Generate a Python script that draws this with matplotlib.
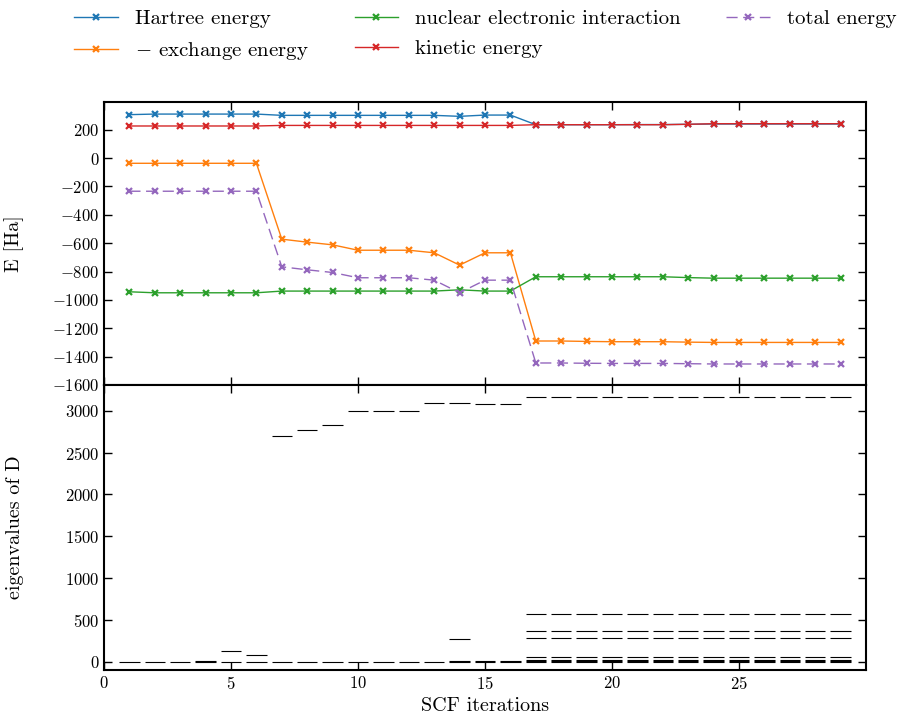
"""
SCF convergence: energy components and eigenvalues of D per iteration
"""

import matplotlib

matplotlib.use("Agg")
import matplotlib.pyplot as plt

plt.rcParams["font.family"] = ["cmr10", "DejaVu Serif"]
plt.rcParams["mathtext.fontset"] = "cm"
plt.rcParams["axes.formatter.use_mathtext"] = True
plt.rcParams["font.size"] = 12

# Iterations
iterations = list(range(1, 30))

# Energy components [Ha]
hartree = [306, 310, 310, 310, 310, 310, 301, 301, 301, 301, 301, 301, 301, 294, 303, 303,
           235, 235, 235, 235, 236, 236, 238, 240, 240, 240, 240, 240, 240]
exchange = [-37, -37, -37, -37, -37, -37, -572, -593, -612, -650, -650, -650, -668, -755, -668, -668,
            -1290, -1290, -1293, -1295, -1295, -1295, -1298, -1300, -1300, -1300, -1300, -1300, -1300]
nuclear = [-943, -950, -950, -950, -950, -950, -938, -938, -938, -938, -938, -938, -938, -929, -938, -938,
           -837, -837, -837, -837, -837, -837, -843, -847, -847, -847, -847, -847, -847]
kinetic = [226, 226, 226, 226, 226, 226, 230, 230, 230, 230, 230, 230, 230, 230, 230, 230,
           235, 235, 235, 235, 235, 235, 238, 242, 242, 242, 242, 242, 242]
total = [-234, -234, -234, -234, -234, -234, -767, -788, -807, -844, -844, -844, -861, -950, -861, -861,
         -1445, -1445, -1447, -1448, -1448, -1448, -1450, -1452, -1452, -1452, -1452, -1452, -1452]

# Eigenvalues of D for each iteration
eig_low = [[0], [0], [0], [0, 10], [0, 123], [0, 84], [0], [0], [0], [0], [0], [0], [0], [0, 5],
           [0, 5], [0, 10]] + [[0, 12, 25, 55]] * 13
eig_mid = [[], [], [], [], [], [], [], [], [], [], [], [], [], [271], [], []] + [[279, 371, 570]] * 13
eig_top = [[], [], [], [], [], [], [2695], [2775], [2835], [3002], [3002], [2995], [3094], [3094],
           [3086], [3086]] + [[3170]] * 13


def setup_axes(ax):
    ax.tick_params(direction="in", top=True, right=True, length=6, width=1)
    for s in ax.spines.values():
        s.set_linewidth(1.5)


fig = plt.figure(figsize=(8.98, 7.22), dpi=100)
ax1 = fig.add_axes([0.1158, 0.4668, 0.8486, 0.3919])
ax2 = fig.add_axes([0.1158, 0.072, 0.8486, 0.3948], sharex=ax1)

style = dict(marker="x", markersize=4, markeredgewidth=1.6, linewidth=1)
l1, = ax1.plot(iterations, hartree, color="C0", label="Hartree energy", **style)
l2, = ax1.plot(iterations, exchange, color="C1", label=r"$-$ exchange energy", **style)
l3, = ax1.plot(iterations, nuclear, color="C2", label="nuclear electronic interaction", **style)
l4, = ax1.plot(iterations, kinetic, color="C3", label="kinetic energy", **style)
l5, = ax1.plot(iterations, total, color="C4", linestyle=(0, (8, 4)), label="total energy", **style)

ax1.set_ylim(-1600, 395)
ax1.set_yticks(range(-1600, 201, 200))
ax1.set_ylabel("E [Ha]", fontsize=14.5)
ax1.yaxis.set_label_coords(-0.105, 0.5)
setup_axes(ax1)
ax1.tick_params(labelbottom=False)

# Eigenvalues drawn as short horizontal bars
for it, lo, mid, top in zip(iterations, eig_low, eig_mid, eig_top):
    ax2.hlines(lo + mid + top, it - 0.4, it + 0.4, colors="k", linewidth=0.8)

ax2.set_xlim(0, 30)
ax2.set_ylim(-100, 3310)
ax2.set_xticks(range(0, 26, 5))
ax2.set_yticks(range(0, 3001, 500))
ax2.set_xlabel("SCF iterations", fontsize=14.5)
ax2.set_ylabel("eigenvalues of D", fontsize=14.5)
ax2.yaxis.set_label_coords(-0.105, 0.5)
setup_axes(ax2)

fig.legend(handles=[l1, l2, l3, l4, l5], loc="upper left", bbox_to_anchor=(0.0735, 0.998),
           ncol=3, frameon=False, fontsize=15, handlelength=2.1, handletextpad=0.8,
           columnspacing=2.2, labelspacing=0.55, borderaxespad=0)

fig.savefig("out.png", dpi=100)
plt.close(fig)
